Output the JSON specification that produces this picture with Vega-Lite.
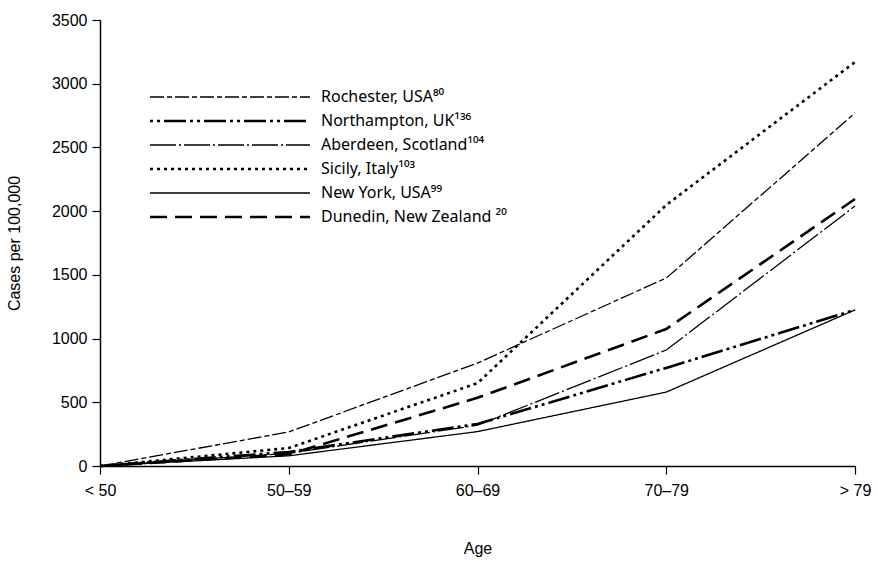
{
  "$schema": "https://vega.github.io/schema/vega-lite/v6.json",
  "autosize": "none",
  "width": 755,
  "height": 446,
  "padding": {"left": 100, "top": 20, "right": 23, "bottom": 101},
  "background": "white",
  "config": {
    "view": {"stroke": null},
    "font": "Liberation Sans",
    "axis": {"domainColor": "black", "tickColor": "black", "labelColor": "black", "titleColor": "black", "grid": false, "labelFont": "Liberation Sans", "titleFont": "Liberation Sans", "labelFontSize": 16, "titleFontSize": 16, "titleFontWeight": "normal", "domainWidth": 1.5, "tickWidth": 1.2, "tickSize": 8}
  },
  "data": {
    "values": [
      {"age": "< 50", "series": "Rochester, USA⁸⁰", "cases": 0},
      {"age": "50–59", "series": "Rochester, USA⁸⁰", "cases": 267},
      {"age": "60–69", "series": "Rochester, USA⁸⁰", "cases": 808},
      {"age": "70–79", "series": "Rochester, USA⁸⁰", "cases": 1475},
      {"age": "> 79", "series": "Rochester, USA⁸⁰", "cases": 2770},
      {"age": "< 50", "series": "Northampton, UK¹³⁶", "cases": 0},
      {"age": "50–59", "series": "Northampton, UK¹³⁶", "cases": 110},
      {"age": "60–69", "series": "Northampton, UK¹³⁶", "cases": 330},
      {"age": "70–79", "series": "Northampton, UK¹³⁶", "cases": 770},
      {"age": "> 79", "series": "Northampton, UK¹³⁶", "cases": 1225},
      {"age": "< 50", "series": "Aberdeen, Scotland¹⁰⁴", "cases": 0},
      {"age": "50–59", "series": "Aberdeen, Scotland¹⁰⁴", "cases": 100},
      {"age": "60–69", "series": "Aberdeen, Scotland¹⁰⁴", "cases": 320},
      {"age": "70–79", "series": "Aberdeen, Scotland¹⁰⁴", "cases": 910},
      {"age": "> 79", "series": "Aberdeen, Scotland¹⁰⁴", "cases": 2040},
      {"age": "< 50", "series": "Sicily, Italy¹⁰³", "cases": 0},
      {"age": "50–59", "series": "Sicily, Italy¹⁰³", "cases": 141},
      {"age": "60–69", "series": "Sicily, Italy¹⁰³", "cases": 650},
      {"age": "70–79", "series": "Sicily, Italy¹⁰³", "cases": 2048},
      {"age": "> 79", "series": "Sicily, Italy¹⁰³", "cases": 3170},
      {"age": "< 50", "series": "New York, USA⁹⁹", "cases": 0},
      {"age": "50–59", "series": "New York, USA⁹⁹", "cases": 80},
      {"age": "60–69", "series": "New York, USA⁹⁹", "cases": 270},
      {"age": "70–79", "series": "New York, USA⁹⁹", "cases": 580},
      {"age": "> 79", "series": "New York, USA⁹⁹", "cases": 1225},
      {"age": "< 50", "series": "Dunedin, New Zealand ²⁰", "cases": 0},
      {"age": "50–59", "series": "Dunedin, New Zealand ²⁰", "cases": 92},
      {"age": "60–69", "series": "Dunedin, New Zealand ²⁰", "cases": 535},
      {"age": "70–79", "series": "Dunedin, New Zealand ²⁰", "cases": 1075},
      {"age": "> 79", "series": "Dunedin, New Zealand ²⁰", "cases": 2095}
    ]
  },
  "mark": {"type": "line", "color": "black", "strokeCap": "butt"},
  "encoding": {
    "x": {
      "field": "age", "type": "ordinal",
      "sort": ["< 50", "50–59", "60–69", "70–79", "> 79"],
      "scale": {"type": "point", "padding": 0},
      "axis": {"title": "Age", "labelAngle": 0, "labelPadding": 8, "titlePadding": 42}
    },
    "y": {
      "field": "cases", "type": "quantitative",
      "scale": {"domain": [0, 3500], "nice": false},
      "axis": {"title": "Cases per 100,000", "format": "d", "values": [0, 500, 1000, 1500, 2000, 2500, 3000, 3500], "labelPadding": 5, "titlePadding": 29}
    },
    "strokeDash": {
      "field": "series", "type": "nominal",
      "scale": {
        "domain": ["Rochester, USA⁸⁰", "Northampton, UK¹³⁶", "Aberdeen, Scotland¹⁰⁴", "Sicily, Italy¹⁰³", "New York, USA⁹⁹", "Dunedin, New Zealand ²⁰"],
        "range": [[14, 3, 5, 3], [3, 4, 3, 4, 22, 4], [26, 3, 2, 3], [3, 4], [1, 0], [17, 8]]
      },
      "legend": {
        "title": null, "orient": "none", "legendX": 47, "legendY": 69, "padding": 0,
        "symbolType": "M-1,0H31", "symbolSize": 100, "symbolStrokeColor": "black",
        "labelFontSize": 16, "labelFont": "Noto Sans", "labelColor": "black",
        "rowPadding": 8, "labelOffset": 158, "labelLimit": 400
      }
    },
    "strokeWidth": {
      "field": "series", "type": "nominal",
      "scale": {
        "type": "ordinal",
        "domain": ["Rochester, USA⁸⁰", "Northampton, UK¹³⁶", "Aberdeen, Scotland¹⁰⁴", "Sicily, Italy¹⁰³", "New York, USA⁹⁹", "Dunedin, New Zealand ²⁰"],
        "range": [1.3, 2.6, 1.3, 2.6, 1.3, 2.6]
      },
      "legend": {
        "title": null, "orient": "none", "legendX": 47, "legendY": 69, "padding": 0,
        "symbolType": "M-1,0H31", "symbolSize": 100, "symbolStrokeColor": "black",
        "labelFontSize": 16, "labelFont": "Noto Sans", "labelColor": "black",
        "rowPadding": 8, "labelOffset": 158, "labelLimit": 400
      }
    }
  }
}
